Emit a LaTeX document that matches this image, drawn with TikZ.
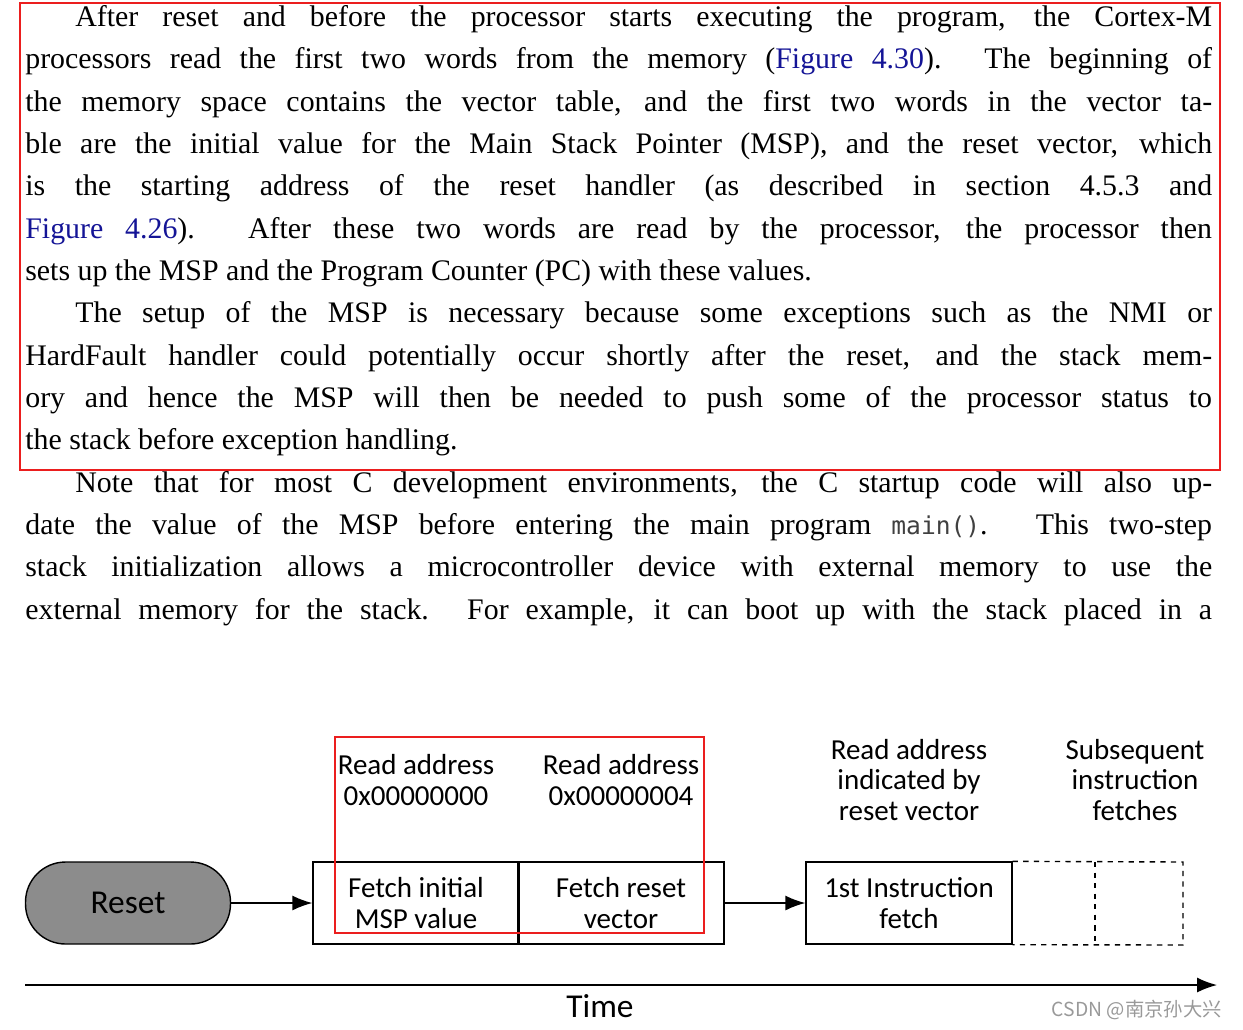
\documentclass[tikz,border=0pt]{standalone}
\usepackage{fontspec}
\setmainfont{Liberation Serif}
\setsansfont{Carlito}
\setmonofont{DejaVu Sans Mono}
\newfontfamily\cjk{Noto Sans CJK SC}
\usetikzlibrary{arrows.meta}
\definecolor{linkblue}{RGB}{20,20,150}
\definecolor{markred}{RGB}{235,30,30}
\newcommand{\fig}[1]{\textcolor{linkblue}{Figure #1}}

\tikzset{
  para/.style={anchor=north west, inner sep=0pt, text width=23.74cm, align=justify,
    font=\fontsize{17}{24.1}\selectfont},
  stepbox/.style={draw, thick, minimum width=4.12cm, minimum height=1.64cm, inner sep=0pt,
    align=center, font=\sffamily\fontsize{16.5}{17.5}\selectfont},
  steplabel/.style={align=center, font=\sffamily\fontsize{16.5}{17.5}\selectfont},
  flow/.style={-{Latex[length=4mm,width=3mm]}, thick},
  redmark/.style={draw=markred, thick}
}

\begin{document}
\begin{tikzpicture}[x=0.02cm,y=-0.02cm]
  \useasboundingbox (0,0) rectangle (1243,1029);

  % text
  \node[para] (txt) at (25,5) {%
    \parindent=1cm
    \indent After reset and before the processor starts executing the program, the Cortex-M\linebreak
    processors read the first two words from the memory (\fig{4.30}). The beginning of\linebreak
    the memory space contains the vector table, and the first two words in the vector ta-\linebreak
    ble are the initial value for the Main Stack Pointer (MSP), and the reset vector, which\linebreak
    is the starting address of the reset handler (as described in section 4.5.3 and\linebreak
    \fig{4.26}). After these two words are read by the processor, the processor then\linebreak
    sets up the MSP and the Program Counter (PC) with these values.\par
    \indent The setup of the MSP is necessary because some exceptions such as the NMI or\linebreak
    HardFault handler could potentially occur shortly after the reset, and the stack mem-\linebreak
    ory and hence the MSP will then be needed to push some of the processor status to\linebreak
    the stack before exception handling.\par
    {\parfillskip=0pt
    \indent Note that for most C development environments, the C startup code will also up-\linebreak
    date the value of the MSP before entering the main program {\ttfamily\fontsize{14}{17}\selectfont\color{black!75}main()}. This two-step\linebreak
    stack initialization allows a microcontroller device with external memory to use the\linebreak
    external memory for the stack. For example, it can boot up with the stack placed in a\par}};
  \draw[redmark] (20,3) rectangle (1220,470);

  % diagram
  \node[draw, thick, fill=black!45, rounded corners=0.8cm, minimum width=4.1cm,
    minimum height=1.64cm, font=\sffamily\fontsize{19}{20}\selectfont] (reset) at (128,903) {Reset};
  \node[stepbox] (msp) at (416,903) {Fetch initial\\MSP value};
  \node[stepbox] (vec) at (621,903) {Fetch reset\\vector};
  \node[stepbox] (inst) at (909,903) {1st Instruction\\fetch};
  \draw[thick, dashed] (inst.north east) -- (1183,862) -- (1183,945) -- (inst.south east);
  \draw[thick, dashed] (1095,862) -- (1095,945);
  \draw[flow] (reset) -- (msp);
  \draw[flow] (vec) -- (inst);

  \node[steplabel] (lmsp) at (416,780) {Read address\\0x00000000};
  \node[steplabel] (lvec) at (621,780) {Read address\\0x00000004};
  \node[steplabel] (linst) at (909,780) {Read address\\indicated by\\reset vector};
  \node[steplabel] (lnext) at (1135,780) {Subsequent\\instruction\\fetches};
  \draw[redmark] (335,737) rectangle (704,933);

  \coordinate (t0) at (25,985);
  \coordinate (t1) at (1217,985);
  \draw[flow] (t0) -- (t1);
  \node[font=\sffamily\fontsize{19}{20}\selectfont] (time) at (600,1006) {Time};
  \node[anchor=east, text=black!40, font=\cjk\fontsize{11}{12}\selectfont] (wm) at (1228,1010) {CSDN @南京孙大兴};
\end{tikzpicture}
\end{document}
